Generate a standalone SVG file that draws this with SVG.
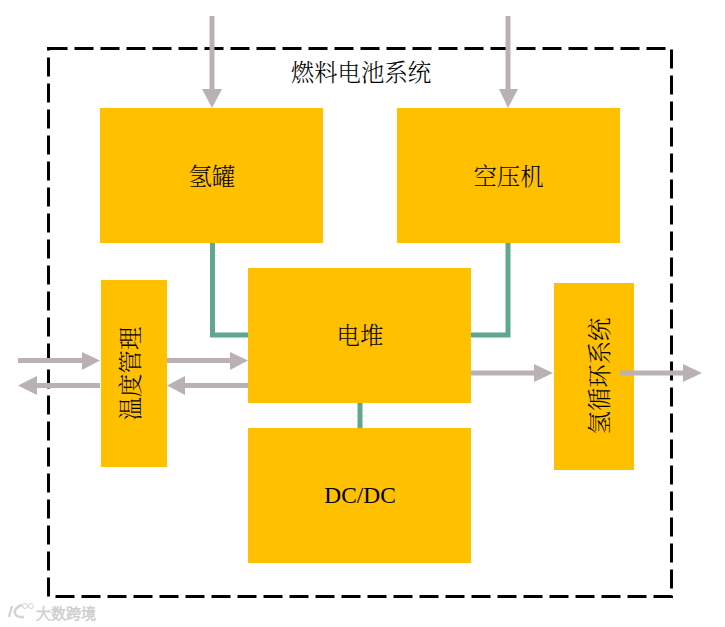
<svg xmlns="http://www.w3.org/2000/svg" width="725" height="627" viewBox="0 0 725 627">
<style>
.box{fill:#ffc000}
.t{font-family:"Liberation Serif","Noto Serif CJK SC","Noto Sans CJK SC",serif;font-size:23.400px;font-weight:300;fill:#000;text-anchor:middle}
.g{fill:none;stroke:#5fa78f;stroke-width:5}
.a{fill:none;stroke:#bab1b3;stroke-width:5}
.h{fill:#bab1b3}
.wm{font-family:"Noto Sans CJK SC",sans-serif;font-size:15px;font-weight:300;fill:#fff;stroke:#cfcfcf;stroke-width:.8}
</style>
<rect width="725" height="627" fill="#fff"/>
<rect id="frame" x="48.500" y="48.500" width="623" height="548" fill="none" stroke="#000" stroke-width="3" stroke-dasharray="19 7"/>
<g id="title"><text class="t" x="361" y="81">燃料电池系统</text></g>
<g id="h2tank"><rect class="box" x="100" y="108" width="223" height="135"/><text class="t" x="212" y="185">氢罐</text></g>
<g id="compressor"><rect class="box" x="397" y="108" width="223" height="135"/><text class="t" x="508.500" y="185">空压机</text></g>
<g id="stack"><rect class="box" x="248" y="268" width="223" height="135"/><text class="t" x="360" y="344">电堆</text></g>
<g id="dcdc"><rect class="box" x="248" y="428" width="223" height="135"/><text class="t" x="360" y="503">DC/DC</text></g>
<g id="thermal"><rect class="box" x="101" y="280" width="66" height="187"/><text class="t" transform="translate(139 373.500) rotate(-90)">温度管理</text></g>
<g id="h2loop"><rect class="box" x="554" y="283" width="80" height="187"/><text class="t" transform="translate(607.500 376) rotate(-90)">氢循环系统</text></g>
<g id="connectors">
<path class="g" d="M212.500 243V335H248"/>
<path class="g" d="M508 243V335H471"/>
<path class="g" d="M360 403V428"/>
<path class="a" d="M212 16V90"/><path class="h" d="M202 89H222L212 108Z"/>
<path class="a" d="M508 16V90"/><path class="h" d="M499 89H518L508 108Z"/>
<path class="a" d="M18 360.500H84"/><path class="h" d="M82 352V370L100 360.500Z"/>
<path class="a" d="M100 385.500H36"/><path class="h" d="M37 376V395L18 385.500Z"/>
<path class="a" d="M167 360.500H232"/><path class="h" d="M230 352V370L248 360.500Z"/>
<path class="a" d="M248 385.500H184"/><path class="h" d="M185 376V395L167 385.500Z"/>
<path class="a" d="M471 373H536"/><path class="h" d="M534 364V382L553 373Z"/>
<path class="a" d="M620 373H686"/><path class="h" d="M683 364V382L702 373Z"/>
</g>
<g id="watermark">
<path d="M12 606L9 617M22 605C13 608 11 618 24 617" fill="none" stroke="#d4d4d4" stroke-width="2.500"/>
<circle cx="25" cy="606" r="2.500" fill="none" stroke="#d4d4d4"/><circle cx="31" cy="606" r="2.500" fill="none" stroke="#d4d4d4"/>
<text class="wm" x="36" y="619">大数跨境</text>
</g>
</svg>
